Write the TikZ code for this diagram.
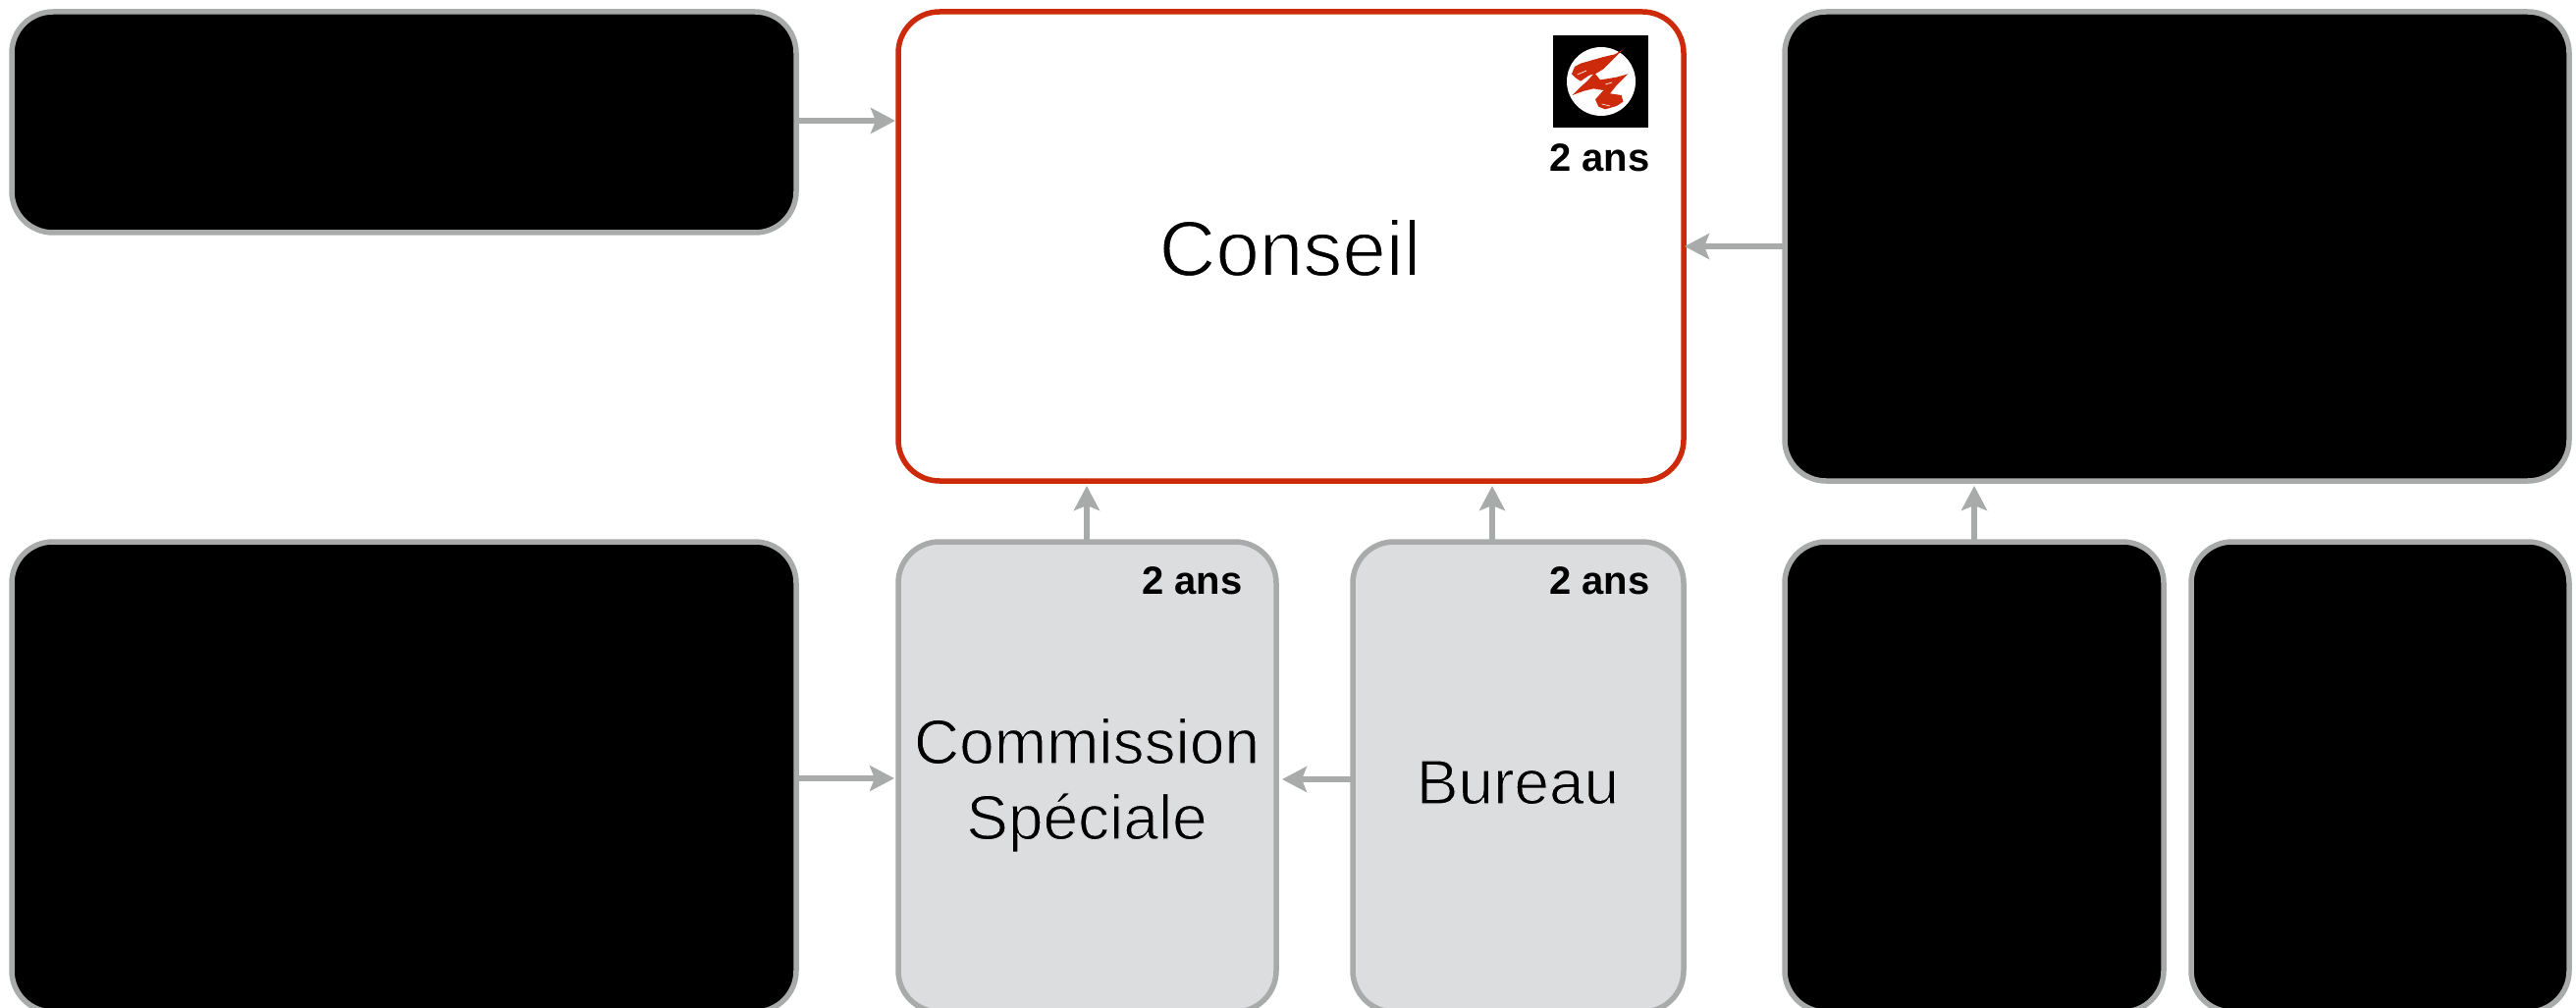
\documentclass[tikz,border=0pt]{standalone}
\usepackage{fontspec}
\setmainfont{Liberation Sans}
\definecolor{edgegrey}{HTML}{A8ABA9}
\definecolor{fillgrey}{HTML}{DCDDDF}
\definecolor{logored}{HTML}{CC2A0A}
\usetikzlibrary{arrows.meta}
\newcommand{\thinwhite}[1]{\special{pdf:code 2 Tr 0.8 w 1 1 1 RG}#1\special{pdf:code 0 Tr}}
\newcommand{\thingrey}[1]{\special{pdf:code 2 Tr 0.55 w 0.863 0.867 0.875 RG}#1\special{pdf:code 0 Tr}}
\tikzset{
  x=0.5pt,y=-0.5pt,
  panel/.style={rounded corners=21pt,line width=2.75pt},
  hidden/.style={panel,draw=edgegrey,fill=black},
  soft/.style={panel,draw=edgegrey,fill=fillgrey},
  main/.style={panel,draw=logored,fill=white},
  link/.style={draw=edgegrey,line width=2.7pt,-{Stealth[length=12.5pt,width=13pt,inset=2.5pt]}},
  big/.style={font=\fontsize{40}{47}\selectfont,align=center,inner sep=0pt,anchor=base},
  mid/.style={font=\fontsize{32}{38.5}\selectfont,align=center,inner sep=0pt,anchor=base},
  tag/.style={font=\fontsize{20}{24}\selectfont\bfseries,inner sep=0pt,anchor=base east}
}
\begin{document}
\begin{tikzpicture}
\useasboundingbox (0,0) rectangle (2624,1027);
\begin{scope}
\clip (0,0) rectangle (2624,1027);
\draw[hidden] (12,12) rectangle (811,237);
\draw[hidden] (1818,12) rectangle (2617,490);
\draw[hidden] (12,552) rectangle (811,1031);
\draw[hidden] (1818,552) rectangle (2204,1031);
\draw[hidden] (2232,552) rectangle (2617,1031);
\draw[main] (915,12) rectangle (1715,490);
\draw[soft] (915,552) rectangle (1300,1031);
\draw[soft] (1378,552) rectangle (1715,1031);
\end{scope}
\node[big] (conseil) at (1314,281) {\thinwhite{Conseil}};
\node[mid] (comm) at (1107,778) {\thingrey{Commission}};
\node[mid] (spec) at (1107,855) {\thingrey{Spéciale}};
\node[mid] (bureau) at (1546,819) {\thingrey{Bureau}};
\node[tag] (t1) at (1681,175) {2 ans};
\node[tag] (t2) at (1266,605) {2 ans};
\node[tag] (t3) at (1681,605) {2 ans};
% logo
\fill[black] (1582,36) rectangle (1679,130);
\fill[white] (1631,83) circle[radius=35];
\begin{scope}[shift={(1590,42)},x=0.16667pt,y=-0.16667pt]
\fill[logored] (190,25) -- (165,40) -- (130,48) -- (95,58) -- (60,68) -- (42,78) -- (33,100) -- (45,112) -- (60,122) -- (85,105) -- (100,100) -- (80,122) -- (60,140) -- (35,165) -- (70,152) -- (100,145) -- (130,150) -- (105,178) -- (115,200) -- (135,208) -- (170,198) -- (190,185) -- (185,165) -- (150,160) -- (170,135) -- (205,100) -- (170,110) -- (140,115) -- (120,118) -- (105,100) -- (130,85) -- (160,55) -- cycle;
\draw[white,line width=0.35pt] (50,102) -- (78,90);
\draw[white,line width=0.35pt] (136,132) -- (156,126);
\draw[white,line width=0.35pt] (100,158) -- (130,150);
\draw[white,line width=0.3pt] (125,192) -- (150,198);
\end{scope}
% connectors
\coordinate (a1) at (814,123); \coordinate (a2) at (912,123);
\coordinate (b1) at (1816,251); \coordinate (b2) at (1716,251);
\coordinate (c1) at (814,793); \coordinate (c2) at (911,793);
\coordinate (d1) at (1376,794); \coordinate (d2) at (1306,794);
\coordinate (e1) at (1107,550); \coordinate (e2) at (1107,495);
\coordinate (f1) at (1520,550); \coordinate (f2) at (1520,495);
\coordinate (g1) at (2011,550); \coordinate (g2) at (2011,495);
\draw[link] (a1) -- (a2);
\draw[link] (b1) -- (b2);
\draw[link] (c1) -- (c2);
\draw[link] (d1) -- (d2);
\draw[link] (e1) -- (e2);
\draw[link] (f1) -- (f2);
\draw[link] (g1) -- (g2);
\end{tikzpicture}
\end{document}
